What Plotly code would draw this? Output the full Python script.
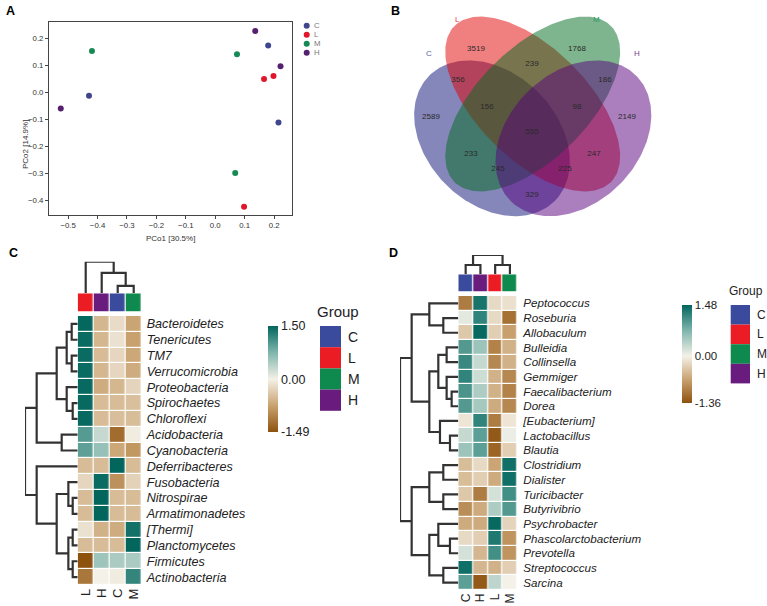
import numpy as np
import plotly.graph_objects as go

W, H = 767, 606
FONT = "Liberation Sans, Arial, sans-serif"

# ---------------- data ----------------
groups = ["C", "L", "M", "H"]
group_colors = ["#3A4A9C", "#EC1C24", "#0E8A4E", "#6A1B7E"]
pcoa_colors = ["#3F468E", "#E0162B", "#168A55", "#55216F"]

# Panel A: PCoA
pcoa_group = ["M", "C", "H", "H", "C", "M", "H", "L", "L", "C", "M", "L"]
pcoa_pc1 = [-0.419, -0.429, -0.525, 0.136, 0.180, 0.074, 0.222, 0.198, 0.166, 0.215, 0.068, 0.098]
pcoa_pc2 = [0.154, -0.012, -0.059, 0.229, 0.175, 0.142, 0.098, 0.061, 0.050, -0.111, -0.299, -0.424]

# Panel B: Venn counts
venn_regions = ["L", "M", "L&M", "C&L", "M&H", "C&L&M", "L&M&H", "C", "H",
                "C&L&M&H", "C&M", "L&H", "C&M&H", "C&L&H", "C&H"]
venn_counts = [3519, 1768, 239, 356, 186, 156, 98, 2589, 2149, 555, 233, 247, 245, 225, 329]

# Panel C: phylum heatmap (row z-scores)
phylum_cols = ["L", "H", "C", "M"]
phylum_rows = ["Bacteroidetes", "Tenericutes", "TM7", "Verrucomicrobia", "Proteobacteria",
               "Spirochaetes", "Chloroflexi", "Acidobacteria", "Cyanobacteria", "Deferribacteres",
               "Fusobacteria", "Nitrospirae", "Armatimonadetes", "[Thermi]", "Planctomycetes",
               "Firmicutes", "Actinobacteria"]
phylum_values = [
    [1.48, -0.55, -0.20, -0.73],
    [1.45, -0.55, -0.15, -0.75],
    [1.45, -0.50, -0.25, -0.70],
    [1.45, -0.55, -0.25, -0.65],
    [1.47, -0.65, -0.55, -0.27],
    [1.47, -0.50, -0.50, -0.47],
    [1.47, -0.50, -0.48, -0.49],
    [1.00, 0.30, -1.25, -0.05],
    [0.95, 0.60, -0.70, -0.85],
    [-0.50, -0.50, 1.50, -0.50],
    [-0.25, 1.45, -0.90, -0.30],
    [-0.50, 1.50, -0.50, -0.50],
    [-0.50, 1.50, -0.50, -0.50],
    [-0.15, -0.60, -0.65, 1.40],
    [-0.50, -0.50, -0.50, 1.50],
    [-1.49, 0.55, 0.47, 0.47],
    [-1.15, 0.00, -0.05, 1.20],
]
phylum_zmin, phylum_zmax = -1.49, 1.50
phylum_row_tree = (
    ((((("Bacteroidetes", "Tenericutes", 18), ("TM7", "Verrucomicrobia", 18), 33),
       ("Proteobacteria", ("Spirochaetes", "Chloroflexi", 15), 33), 63),
      ("Acidobacteria", "Cyanobacteria", 48), 123)),
    ("Deferribacteres",
     (("Fusobacteria", ("Nitrospirae", "Armatimonadetes", 15), 28),
      (("[Thermi]", "Planctomycetes", 15), ("Firmicutes", "Actinobacteria", 15), 28), 63), 123),
    158)
phylum_col_tree = ("L", ("H", ("C", "M", 7.6), 21.0), 32.6)

# Panel D: genus heatmap (row z-scores)
genus_cols = ["C", "H", "L", "M"]
genus_rows = ["Peptococcus", "Roseburia", "Allobaculum", "Bulleidia", "Collinsella", "Gemmiger",
              "Faecalibacterium", "Dorea", "[Eubacterium]", "Lactobacillus", "Blautia",
              "Clostridium", "Dialister", "Turicibacter", "Butyrivibrio", "Psychrobacter",
              "Phascolarctobacterium", "Prevotella", "Streptococcus", "Sarcina"]
genus_values = [
    [-1.00, 1.35, -0.20, -0.15],
    [0.10, 1.20, -0.20, -1.10],
    [-0.35, 1.45, -0.30, -0.70],
    [1.00, 0.55, -0.95, -0.55],
    [1.15, 0.30, -0.90, -0.55],
    [1.20, 0.25, -0.55, -0.90],
    [1.05, 0.45, -0.55, -0.95],
    [1.00, 0.50, -0.60, -0.90],
    [-0.10, 1.20, -1.00, -0.10],
    [0.30, 0.95, -1.30, 0.05],
    [0.55, 0.95, -1.20, -0.30],
    [-0.45, -0.20, -0.65, 1.40],
    [-0.45, -0.30, -0.60, 1.40],
    [-0.35, -1.00, 0.20, 1.10],
    [-0.85, -0.60, 0.45, 1.00],
    [-0.60, -0.60, 1.45, -0.25],
    [-0.20, -0.30, 1.30, -0.80],
    [0.20, -0.50, 1.10, -0.80],
    [1.40, -0.50, -0.55, -0.30],
    [0.95, -1.30, 0.35, 0.00],
]
genus_zmin, genus_zmax = -1.36, 1.48
genus_row_tree = (
    (("Peptococcus", ("Roseburia", "Allobaculum", 45), 87),
     ((("Bulleidia", "Collinsella", 35), ("Gemmiger", ("Faecalibacterium", "Dorea", 20), 35), 60),
      ("[Eubacterium]", ("Lactobacillus", "Blautia", 25), 55), 87), 140),
    ((("Clostridium", "Dialister", 45), ("Turicibacter", "Butyrivibrio", 45), 87),
     (("Psychrobacter", ("Phascolarctobacterium", "Prevotella", 25), 60),
      ("Streptococcus", "Sarcina", 45), 87), 140),
    175)
genus_col_tree = (("C", "H", 9.3), ("L", "M", 9.3), 19.3)


# ---------------- helpers ----------------
def dx_(a, b):
    return [a / W, b / W]


def dy_(top, bottom):
    return [1 - bottom / H, 1 - top / H]


def dendro(tree, order):
    pos = {n: i for i, n in enumerate(order)}
    P, Hh = [], []

    def rec(node):
        if isinstance(node, str):
            return pos[node], 0.0
        left, right, h = node
        pl, hl = rec(left)
        pr, hr = rec(right)
        P.extend([pl, pl, pr, pr, None])
        Hh.extend([hl, h, h, hr, None])
        return (pl + pr) / 2, h

    rec(tree)
    return P, Hh


brown, mid, teal = "#8E520F", "#F4F1E8", "#02665D"


def scale(zmin, zmax):
    m = -zmin / (zmax - zmin)
    return [[0, brown], [m * 0.5, "#C9A270"], [m, mid], [m + (1 - m) * 0.5, "#7FB5AC"], [1, teal]]


group_scale = []
for i, c in enumerate(group_colors):
    group_scale += [[i / 4, c], [(i + 1) / 4, c]]

fig = go.Figure()
layout = dict(width=W, height=H, margin=dict(l=0, r=0, t=0, b=0),
              paper_bgcolor="white", plot_bgcolor="white", showlegend=False,
              font=dict(family=FONT, color="#222"))
annotations, shapes = [], []


def ann(text, x, y, size, color="#222", xa="center", ya="middle", bold=False):
    if bold:
        text = "<b>%s</b>" % text
    annotations.append(dict(text=text, x=x / W, y=1 - y / H, xref="paper", yref="paper",
                            showarrow=False, xanchor=xa, yanchor=ya,
                            font=dict(size=size, color=color, family=FONT)))


hidden = dict(visible=False, showgrid=False, zeroline=False)

# ---------------- Panel A ----------------
for g, col in zip(groups, pcoa_colors):
    idx = [i for i, gg in enumerate(pcoa_group) if gg == g]
    fig.add_trace(go.Scatter(x=[pcoa_pc1[i] for i in idx], y=[pcoa_pc2[i] for i in idx],
                             mode="markers", marker=dict(size=6, color=col), name=g,
                             xaxis="x", yaxis="y"))
axA = dict(showgrid=False, zeroline=False, showline=True, mirror=True, linecolor="#444",
           linewidth=1, ticks="outside", ticklen=3, tickcolor="#444",
           tickfont=dict(size=7.8, color="#333"), tickformat=".1f", dtick=0.1)
layout["xaxis"] = dict(axA, domain=dx_(49, 292), range=[-0.565, 0.261], anchor="y", tick0=0)
layout["yaxis"] = dict(axA, domain=dy_(22, 215), range=[-0.455, 0.262], anchor="x", tick0=0)
ann("PCo1 [30.5%]", 170, 238, 8, "#333")
annotations.append(dict(text="PCo2 [14.9%]", x=19 / W, y=1 - 118 / H, xref="paper",
                        yref="paper", showarrow=False, textangle=-90,
                        font=dict(size=8, color="#333", family=FONT)))
for i, (g, col) in enumerate(zip(groups, pcoa_colors)):
    cy = 25.7 + 9 * i
    shapes.append(dict(type="circle", xref="paper", yref="paper",
                       x0=(306.7 - 3) / W, x1=(306.7 + 3) / W,
                       y0=1 - (cy + 3) / H, y1=1 - (cy - 3) / H,
                       fillcolor=col, line=dict(width=0)))
    ann(g, 312, cy, 7.8, "#777", xa="left")
ann("A", 10, 11, 12.5, "#000", bold=True)

# ---------------- Panel B ----------------
venn_fill = {"C": "rgba(12,16,118,0.5)", "L": "rgba(226,0,0,0.5)",
             "M": "rgba(0,108,30,0.5)", "H": "rgba(88,0,125,0.5)"}
ellipses = {"C": (492.0, 138.3, 88.7, 65.3, np.pi / 4),
            "L": (532.7, 104.0, 110.5, 55.5, np.pi / 4),
            "M": (532.7, 104.0, 110.5, 55.5, 3 * np.pi / 4),
            "H": (573.4, 138.3, 88.7, 65.3, 3 * np.pi / 4)}
# label anchor for each Venn region (layout positions, px)
venn_label_xy = {"L": (476, 49), "M": (577, 49), "L&M": (532, 64), "C&L": (458, 80),
                 "M&H": (605, 80), "C&L&M": (487, 107), "L&M&H": (577, 107),
                 "C": (431, 117), "H": (627, 117), "C&L&M&H": (532, 132),
                 "C&M": (471, 154), "L&H": (594, 154), "C&M&H": (498, 169),
                 "C&L&H": (565, 169), "C&H": (532, 195)}
t = np.linspace(0, 2 * np.pi, 240)
for g in groups:
    cx, cy, a, b, th = ellipses[g]
    ex = cx + a * np.cos(t) * np.cos(th) - b * np.sin(t) * np.sin(th)
    ey = cy + a * np.cos(t) * np.sin(th) + b * np.sin(t) * np.cos(th)
    fig.add_trace(go.Scatter(x=ex, y=ey, mode="lines", fill="toself", line=dict(width=0),
                             fillcolor=venn_fill[g], xaxis="x2", yaxis="y2", hoverinfo="skip"))
layout["xaxis2"] = dict(hidden, domain=dx_(400, 670), range=[400, 670], anchor="y2")
layout["yaxis2"] = dict(hidden, domain=dy_(0, 225), range=[225, 0], anchor="x2")
fig.add_trace(go.Scatter(x=[venn_label_xy[k][0] for k in venn_regions],
                         y=[venn_label_xy[k][1] for k in venn_regions],
                         mode="text", text=[str(c) for c in venn_counts],
                         textfont=dict(size=8, color="#2a2a2a", family=FONT),
                         xaxis="x2", yaxis="y2", hoverinfo="skip"))
venn_set_xy = {"L": (457.7, 20), "M": (596.7, 20), "C": (429, 54), "H": (636.7, 54)}
for g, col in zip(groups, ["#5A5E9E", "#E8383D", "#2A9A66", "#7A3A8E"]):
    ann(g, venn_set_xy[g][0], venn_set_xy[g][1], 8, col)
ann("B", 395, 11, 12.5, "#000", bold=True)


# ---------------- heatmap panel builder ----------------
def heat_panel(n, rows, cols, vals, zmin, zmax, row_tree, col_tree, box, fs, stand, cb, legend):
    hx0, hx1, hy0, hy1, by0, by1, dtop, rdx0 = box
    xa, ya = "x%d" % n, "y%d" % n
    yb, yd, xr = "y%d" % (n + 1), "y%d" % (n + 2), "x%d" % (n + 1)
    nr, nc = len(rows), len(cols)
    fig.add_trace(go.Heatmap(z=vals, x=list(range(nc)), y=list(range(nr)),
                             colorscale=scale(zmin, zmax), zmin=zmin, zmax=zmax,
                             xgap=1.2, ygap=1.2, xaxis=xa, yaxis=ya, hoverinfo="skip",
                             colorbar=dict(thickness=cb[2], thicknessmode="pixels",
                                           len=cb[3], lenmode="pixels",
                                           x=cb[0] / W, xanchor="left", y=1 - cb[1] / H,
                                           yanchor="top", xpad=0, ypad=0, outlinewidth=0,
                                           tickvals=[zmax, 0, zmin],
                                           ticktext=["%.2f" % zmax, "0.00", "%.2f" % zmin],
                                           ticks="", tickfont=dict(size=cb[4], color="#222"))))
    fig.add_trace(go.Heatmap(z=[[groups.index(c) for c in cols]], x=list(range(nc)), y=[0],
                             colorscale=group_scale, zmin=0, zmax=3, showscale=False,
                             xgap=1.2, xaxis=xa, yaxis=yb, hoverinfo="skip"))
    P, Hh = dendro(col_tree, cols)
    fig.add_trace(go.Scatter(x=P, y=Hh, mode="lines", line=dict(color="#333", width=2.2),
                             xaxis=xa, yaxis=yd, hoverinfo="skip"))
    P, Hh = dendro(row_tree, rows)
    fig.add_trace(go.Scatter(x=Hh, y=P, mode="lines", line=dict(color="#333", width=2.2),
                             xaxis=xr, yaxis=ya, hoverinfo="skip"))
    layout["xaxis%d" % n] = dict(domain=dx_(hx0, hx1), range=[-0.5, nc - 0.5], anchor=ya,
                                 showgrid=False, zeroline=False, showline=False, ticks="",
                                 tickvals=list(range(nc)), ticktext=cols, tickangle=-90,
                                 tickfont=dict(size=fs + 0.5, color="#222"))
    layout["yaxis%d" % n] = dict(domain=dy_(hy0, hy1), range=[nr - 0.5, -0.5], anchor=xa,
                                 side="right", showgrid=False, zeroline=False, showline=False,
                                 ticks="", tickvals=list(range(nr)),
                                 ticktext=["<i>%s</i>" % r for r in rows],
                                 ticklabelstandoff=stand,
                                 tickfont=dict(size=fs, color="#222"))
    layout["yaxis%d" % (n + 1)] = dict(hidden, domain=dy_(by0, by1), range=[-0.5, 0.5],
                                       anchor=xa)
    layout["yaxis%d" % (n + 2)] = dict(hidden, domain=dy_(dtop, by0),
                                       range=[0, col_tree[2]], anchor=xa)
    layout["xaxis%d" % (n + 1)] = dict(hidden, domain=dx_(rdx0, hx0),
                                       range=[row_tree[2], 0], anchor=ya)
    # group legend
    lx0, ly0, sw, sh, ts, lfs, tx = legend
    ann("Group", tx, ly0 - sh * 0.7, ts, "#222", xa="left")
    for i, (g, c) in enumerate(zip(groups, group_colors)):
        shapes.append(dict(type="rect", xref="paper", yref="paper",
                           x0=lx0 / W, x1=(lx0 + sw) / W,
                           y0=1 - (ly0 + sh * (i + 1)) / H, y1=1 - (ly0 + sh * i) / H,
                           fillcolor=c, line=dict(width=0)))
        ann(g, lx0 + sw + 5, ly0 + sh * (i + 0.5), lfs, "#222", xa="left")


heat_panel(3, phylum_rows, phylum_cols, phylum_values, phylum_zmin, phylum_zmax,
           phylum_row_tree, phylum_col_tree,
           (77.7, 141.7, 316, 585, 293.3, 311.7, 261.7, 25.0), 12.6, 4,
           (268, 326, 9.5, 106, 12.5), (320, 326, 21, 21.2, 15, 14, 315))
heat_panel(7, genus_rows, genus_cols, genus_values, genus_zmin, genus_zmax,
           genus_row_tree, genus_col_tree,
           (458.3, 517.3, 296, 590, 274.3, 291.7, 255.0, 400.0), 11.6, 5,
           (681.7, 305, 10, 98, 11.5), (730.7, 305, 19.3, 19.6, 12, 12, 727))
ann("C", 13, 253, 12.5, "#000", bold=True)
ann("D", 393, 253, 12.5, "#000", bold=True)

layout["annotations"] = annotations
layout["shapes"] = shapes
fig.update_layout(**layout)
fig.write_html("out.html", config={"displayModeBar": False},
               post_script="document.body.style.margin='0px';"
                           "document.body.style.overflow='hidden';")
